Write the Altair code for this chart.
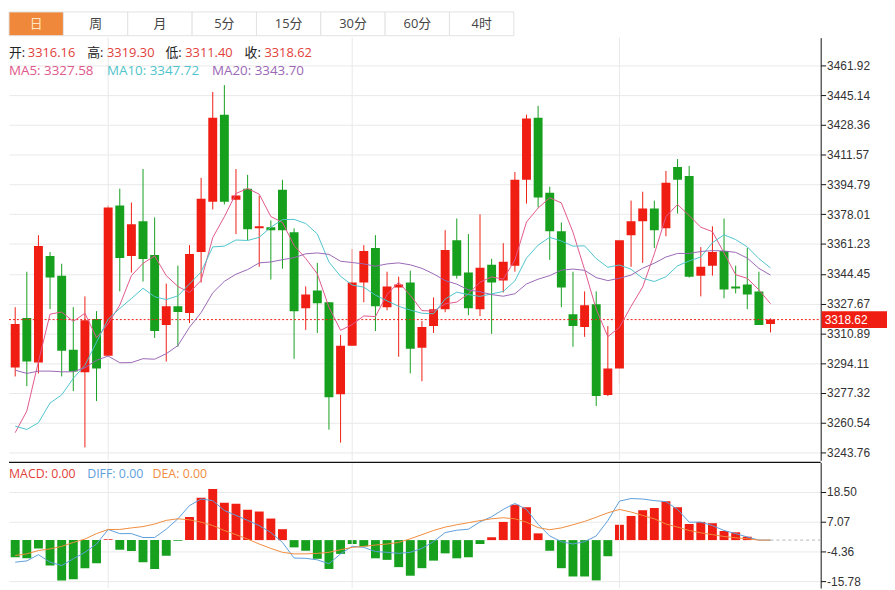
import altair as alt
import pandas as pd

# ---------------- data ----------------
tabs = ["日", "周", "月", "5分", "15分", "30分", "60分", "4时"]

opens = [3291.6, 3319.5, 3294.4, 3354.5, 3343.4, 3301.6, 3288.9, 3318.9, 3298.3, 3382.9,
         3354.5, 3374.0, 3355.1, 3315.6, 3326.1, 3322.3, 3356.7, 3385.1, 3434.1, 3386.2,
         3392.4, 3370.1, 3370.7, 3391.8, 3367.9, 3325.0, 3335.0, 3328.4, 3276.6, 3303.9,
         3339.5, 3359.0, 3325.6, 3336.7, 3339.5, 3302.8, 3315.0, 3324.5, 3363.4, 3345.1,
         3324.5, 3349.5, 3340.6, 3349.0, 3397.4, 3432.4, 3390.1, 3368.4, 3321.7, 3314.5,
         3327.3, 3276.1, 3291.1, 3366.2, 3374.0, 3381.2, 3370.1, 3404.6, 3399.6, 3343.4,
         3349.0, 3357.3, 3337.3, 3338.4, 3334.5, 3316.16]
highs = [3325.6, 3345.6, 3366.2, 3356.7, 3350.1, 3325.6, 3331.7, 3323.4, 3382.9, 3392.4,
         3384.6, 3403.5, 3376.2, 3338.9, 3349.0, 3360.6, 3398.5, 3446.9, 3450.8, 3403.5,
         3400.2, 3388.5, 3374.5, 3397.4, 3370.1, 3337.3, 3350.6, 3328.4, 3310.0, 3358.4,
         3360.6, 3366.2, 3345.6, 3342.8, 3346.2, 3317.8, 3331.1, 3369.0, 3375.6, 3366.8,
         3377.9, 3352.9, 3361.7, 3401.8, 3434.1, 3439.1, 3393.5, 3373.4, 3345.6, 3334.5,
         3334.5, 3315.0, 3364.0, 3385.7, 3390.7, 3385.7, 3402.4, 3409.1, 3405.2, 3359.5,
         3371.2, 3375.6, 3349.0, 3359.0, 3345.6, 3319.30]
lows = [3286.6, 3281.1, 3288.3, 3324.5, 3286.6, 3278.3, 3246.6, 3272.7, 3297.7, 3334.5,
        3345.1, 3340.1, 3308.3, 3295.0, 3303.3, 3316.7, 3339.5, 3380.7, 3383.5, 3366.8,
        3363.4, 3348.4, 3341.2, 3347.3, 3296.6, 3312.8, 3311.1, 3256.6, 3249.3, 3303.9,
        3328.4, 3312.2, 3323.9, 3297.7, 3288.3, 3283.9, 3311.1, 3322.8, 3341.7, 3321.1,
        3320.6, 3310.6, 3333.9, 3345.6, 3384.0, 3381.8, 3352.3, 3325.6, 3303.3, 3308.9,
        3269.9, 3275.5, 3282.7, 3348.4, 3350.6, 3359.0, 3365.6, 3378.4, 3342.3, 3331.7,
        3343.4, 3330.6, 3333.4, 3324.5, 3315.6, 3311.40]
closes = [3316.1, 3295.0, 3360.1, 3342.3, 3301.1, 3289.4, 3318.3, 3291.1, 3381.8, 3353.4,
          3372.3, 3352.8, 3312.2, 3326.1, 3322.9, 3355.6, 3386.8, 3432.4, 3385.1, 3388.5,
          3369.5, 3371.2, 3369.0, 3369.0, 3323.4, 3332.8, 3327.8, 3274.9, 3303.9, 3339.5,
          3357.3, 3326.1, 3337.3, 3338.4, 3302.2, 3314.5, 3324.5, 3357.9, 3343.4, 3325.0,
          3347.9, 3339.5, 3351.2, 3397.4, 3431.9, 3387.4, 3368.4, 3336.7, 3315.0, 3326.7,
          3275.5, 3291.1, 3363.4, 3374.0, 3381.2, 3369.0, 3395.7, 3397.4, 3342.8, 3348.4,
          3356.7, 3335.6, 3336.1, 3332.8, 3315.6, 3318.62]

ma5 = [3254.9, 3267.1, 3294.9, 3321.7, 3322.9, 3317.6, 3322.2, 3308.4, 3316.3, 3326.8,
       3343.4, 3350.3, 3354.5, 3343.4, 3337.3, 3333.9, 3340.7, 3364.8, 3376.6, 3389.7,
       3392.5, 3389.3, 3376.7, 3373.4, 3360.4, 3353.1, 3344.4, 3325.6, 3312.6, 3315.8,
       3320.7, 3320.3, 3332.8, 3339.7, 3332.3, 3323.7, 3323.4, 3327.5, 3328.5, 3333.1,
       3339.7, 3342.7, 3341.4, 3352.2, 3373.6, 3381.5, 3387.3, 3384.4, 3367.9, 3346.8,
       3324.5, 3309.0, 3314.3, 3326.1, 3337.0, 3355.7, 3376.7, 3383.5, 3377.2, 3370.7,
       3368.2, 3356.2, 3343.9, 3341.9, 3335.4, 3327.58]
ma10 = [3258.6, 3256.7, 3260.5, 3271.6, 3276.2, 3285.5, 3292.9, 3305.9, 3318.9, 3324.9,
        3330.5, 3336.3, 3331.5, 3329.9, 3332.0, 3338.7, 3345.5, 3359.6, 3360.0, 3363.5,
        3363.2, 3365.0, 3370.7, 3375.0, 3375.1, 3372.8, 3366.9, 3351.1, 3343.0, 3338.1,
        3336.9, 3332.4, 3329.2, 3326.1, 3324.0, 3322.2, 3321.9, 3330.2, 3334.1, 3332.7,
        3331.7, 3333.1, 3334.5, 3340.4, 3353.3, 3360.6, 3365.0, 3362.9, 3360.0, 3360.2,
        3353.0, 3348.1, 3349.4, 3347.0, 3341.9, 3340.1, 3342.8, 3348.9, 3351.7, 3353.9,
        3362.0, 3366.4, 3363.7, 3359.6, 3353.0, 3347.72]
ma20 = [3290.1, 3288.3, 3289.6, 3289.6, 3289.2, 3289.2, 3291.5, 3295.7, 3298.1, 3294.3,
        3294.4, 3296.6, 3296.3, 3299.4, 3304.0, 3314.3, 3322.6, 3333.7, 3340.2, 3344.2,
        3346.8, 3350.6, 3351.1, 3352.4, 3353.5, 3355.7, 3356.2, 3355.4, 3351.5, 3350.8,
        3350.0, 3348.7, 3350.0, 3350.6, 3349.5, 3347.5, 3344.4, 3340.6, 3338.6, 3335.4,
        3334.3, 3332.7, 3331.8, 3333.2, 3338.7, 3341.4, 3343.4, 3346.5, 3347.1, 3346.4,
        3342.3, 3340.6, 3341.9, 3343.7, 3347.6, 3350.4, 3353.9, 3355.9, 3355.9, 3357.0,
        3357.5, 3357.3, 3356.5, 3353.3, 3347.5, 3343.70]

macd = [-6.6, -7.0, -3.2, -9.8, -15.5, -15.1, -10.8, -8.9, 0.3, -3.7,
        -4.2, -8.5, -11.1, -6.0, -0.2, 8.9, 16.3, 19.7, 14.4, 14.0,
        11.7, 11.0, 8.3, 4.2, -2.8, -4.1, -7.2, -11.1, -5.3, -1.5,
        -2.4, -7.0, -7.6, -10.4, -13.7, -10.8, -7.9, -5.1, -7.0, -6.6,
        -1.5, 1.1, 7.0, 13.6, 12.6, 2.6, -4.1, -10.8, -14.0, -14.0,
        -15.5, -6.2, 5.9, 9.3, 11.5, 12.4, 15.0, 12.6, 6.2, 7.0,
        6.5, 3.5, 3.0, 1.3, 0.0, 0.0]
diff = [-8.5, -8.0, -5.6, -8.5, -9.8, -7.2, -4.7, -1.5, 4.1, 2.5,
        2.5, 1.0, 1.0, 4.2, 8.2, 13.3, 15.8, 15.2, 11.4, 9.5,
        7.6, 5.6, 2.9, -0.9, -6.9, -7.0, -7.6, -9.1, -5.3, -2.4,
        -2.8, -4.4, -4.7, -5.1, -4.7, -3.2, -0.6, 2.9, 3.8, 4.2,
        7.0, 9.0, 11.8, 14.1, 11.8, 6.1, 1.6, -0.6, -1.5, -0.6,
        1.6, 7.5, 15.0, 16.0, 15.8, 15.2, 14.8, 11.8, 6.9, 6.9,
        5.6, 3.7, 2.5, 1.2, 0.0, 0.0]
dea = [-5.9, -5.3, -4.0, -3.4, -2.4, -0.9, 0.4, 2.5, 4.1, 4.1,
       4.7, 5.2, 6.2, 7.6, 8.2, 7.8, 6.9, 5.6, 3.7, 2.1,
       0.4, -1.5, -3.2, -4.7, -5.3, -5.3, -5.1, -4.7, -3.7, -2.8,
       -2.4, -1.9, -1.5, -0.9, 0.5, 2.1, 3.7, 5.0, 5.9, 6.7,
       7.5, 8.2, 8.6, 8.2, 6.9, 4.8, 4.0, 4.7, 5.9, 7.2,
       8.8, 10.5, 11.8, 10.8, 9.5, 8.2, 6.2, 5.0, 3.7, 2.8,
       2.1, 1.4, 0.9, 0.5, 0.0, 0.0]

price_ticks = [3461.92, 3445.14, 3428.36, 3411.57, 3394.79, 3378.01, 3361.23,
               3344.45, 3327.67, 3310.89, 3294.11, 3277.32, 3260.54, 3243.76]
macd_ticks = [18.50, 7.07, -4.36, -15.78]
vgrid_idx = [8, 29, 52]
hdr_names = ["开:", "高:", "低:", "收:"]

# ---------------- style ----------------
RED = "#ef1d12"
GREEN = "#16a01e"
VALRED = "#e2413a"
C_MA5 = "#e0588c"
C_MA10 = "#4fc4cc"
C_MA20 = "#9a68b5"
C_DIFF = "#5d9fdb"
C_DEA = "#f08c3e"
GRID = "#e9e9e9"
FONT = "Open Sans, Noto Sans CJK SC"
AXFONT = "Liberation Sans"

W = 820
H_TAB = 24
H_MAIN = 427
H_MACD = 127
XDOM = [-0.108, 68.89]
YDOM = [3239.3, 3477.5]
MDOM = [-18.45, 29.93]

n = len(closes)
df = pd.DataFrame({"i": list(range(n)), "open": opens, "high": highs, "low": lows,
                   "close": closes, "ma5": ma5, "ma10": ma10, "ma20": ma20,
                   "macd": macd, "diff": diff, "dea": dea})
one = pd.DataFrame({"z": [0]})
vg = pd.DataFrame({"i": vgrid_idx})

xs = alt.Scale(domain=XDOM, nice=False, zero=False)
ys = alt.Scale(domain=YDOM, nice=False, zero=False)
ms = alt.Scale(domain=MDOM, nice=False, zero=False)

price_axis = alt.Axis(orient="right", values=price_ticks, format=".2f", grid=True,
                      gridColor=GRID, gridWidth=1, domainColor="#111", tickColor="#111",
                      tickSize=5, labelPadding=1, labelColor="#333", labelFont=AXFONT,
                      labelFontSize=12, labelOverlap=False, title=None)
macd_axis = alt.Axis(orient="right", values=macd_ticks, grid=True,
                     labelExpr="replace(format(datum.value, '.2f'), '\u2212', '-')",
                     gridColor=GRID, gridWidth=1, domainColor="#111", tickColor="#111",
                     tickSize=5, labelPadding=1, labelColor="#333", labelFont=AXFONT,
                     labelFontSize=12, labelOverlap=False, title=None)

X = alt.X("i:Q", scale=xs, axis=None)
updown = alt.condition("datum.close >= datum.open", alt.value(RED), alt.value(GREEN))
base = alt.Chart(df)


def YP(field):
    return alt.Y(field, type="quantitative", scale=ys, axis=price_axis)


def YM(field):
    return alt.Y(field, type="quantitative", scale=ms, axis=macd_axis)


# ---------------- tab bar ----------------
tab_df = pd.DataFrame({"tab": tabs, "k": list(range(len(tabs)))})
tx = alt.Scale(domain=[0, W], nice=False, zero=False)
tab_base = alt.Chart(tab_df).transform_calculate(
    left="max(0, datum.k * 65 - 10)",
    right="datum.k * 65 + 55",
).transform_calculate(center="(datum.left + datum.right) / 2")
tab_rect = tab_base.mark_rect(stroke="#e2e2e2", strokeWidth=1).encode(
    x=alt.X("left:Q", scale=tx, axis=None), x2="right:Q",
    y=alt.value(0), y2=alt.value(H_TAB),
    fill=alt.condition("datum.k == 0", alt.value("#f0883b"), alt.value("white")))
tab_text = tab_base.mark_text(font=FONT, fontSize=13, baseline="middle").encode(
    x=alt.X("center:Q", scale=tx, axis=None), y=alt.value(H_TAB / 2), text="tab:N",
    color=alt.condition("datum.k == 0", alt.value("#fde6c4"), alt.value("#444")))
tab_chart = alt.layer(tab_rect, tab_text).properties(width=W, height=H_TAB)

# ---------------- main price panel ----------------
wick = base.mark_rule(strokeWidth=1, clip=True).encode(
    x=X, y=YP("low"), y2="high:Q", color=updown)
vgrid_main = alt.Chart(vg).mark_rule(color=GRID, strokeWidth=1).encode(
    x=alt.X("i:Q", scale=xs, axis=None))
body = base.mark_bar(size=9, clip=True).encode(
    x=X, y=YP("open"), y2="close:Q", color=updown)
l5 = base.mark_line(strokeWidth=1, clip=True, color=C_MA5).encode(x=X, y=YP("ma5"))
l10 = base.mark_line(strokeWidth=1, clip=True, color=C_MA10).encode(x=X, y=YP("ma10"))
l20 = base.mark_line(strokeWidth=1, clip=True, color=C_MA20).encode(x=X, y=YP("ma20"))
last = closes[-1]
pline = alt.Chart(one).mark_rule(color=RED, strokeDash=[2, 2], strokeWidth=1).encode(
    x=alt.value(0), x2=alt.value(W), y=alt.YDatum(last, scale=ys, axis=price_axis))
ptag = alt.Chart(one).mark_rect(color=RED, yOffset=-8.5, y2Offset=8.5).encode(
    x=alt.value(W + 1), x2=alt.value(W + 67),
    y=alt.YDatum(last, scale=ys, axis=price_axis), y2=alt.Y2Datum(last))
ptext = alt.Chart(one).mark_text(color="white", align="left", baseline="middle",
                                 font=AXFONT, fontSize=12).encode(
    x=alt.value(W + 4), y=alt.YDatum(last, scale=ys, axis=price_axis),
    text=alt.value(f"{last:.2f}"))

hdr_vals = [opens[-1], highs[-1], lows[-1], closes[-1]]
hdr_layers = []
for k, (nm, v) in enumerate(zip(hdr_names, hdr_vals)):
    hdr_layers.append(alt.Chart(one).mark_text(align="left", baseline="middle", font=FONT,
                                               fontSize=13, color="#222").encode(
        x=alt.value(max(0, round(79.7 * k - 1))), y=alt.value(16), text=alt.value(nm)))
    hdr_layers.append(alt.Chart(one).mark_text(align="left", baseline="middle", font=FONT,
                                               fontSize=13, color=VALRED).encode(
        x=alt.value(round(79.7 * k + 19)), y=alt.value(16), text=alt.value(f"{v:.2f}")))
ma_info = [("MA5", ma5[-1], C_MA5, 0), ("MA10", ma10[-1], C_MA10, 99), ("MA20", ma20[-1], C_MA20, 205)]
for nm, v, col, px in ma_info:
    hdr_layers.append(alt.Chart(one).mark_text(align="left", baseline="middle", font=FONT,
                                               fontSize=13.5, color=col).encode(
        x=alt.value(px), y=alt.value(34), text=alt.value(f"{nm}: {v:.2f}")))

main_chart = alt.layer(wick, vgrid_main, body, pline, l5, l10, l20, ptag, ptext,
                       *hdr_layers).properties(width=W, height=H_MAIN)

# ---------------- MACD panel ----------------
mbars = base.mark_bar(size=9, clip=True).encode(
    x=X, y=YM("macd"), y2=alt.Y2Datum(0),
    color=alt.condition("datum.macd >= 0", alt.value(RED), alt.value(GREEN)))
vgrid_macd = alt.Chart(vg).mark_rule(color=GRID, strokeWidth=1).encode(
    x=alt.X("i:Q", scale=xs, axis=None))
zline = alt.Chart(one).mark_rule(color="#b5b5b5", strokeDash=[3, 3], strokeWidth=1).encode(
    x=alt.XDatum(n - 1, scale=xs, axis=None), x2=alt.value(W),
    y=alt.YDatum(0, scale=ms, axis=macd_axis))
ldiff = base.mark_line(strokeWidth=1, clip=True, color=C_DIFF).encode(x=X, y=YM("diff"))
ldea = base.mark_line(strokeWidth=1, clip=True, color=C_DEA).encode(x=X, y=YM("dea"))
topline = alt.Chart(one).mark_rule(color="#111", strokeWidth=1.2).encode(
    x=alt.value(0), x2=alt.value(W), y=alt.value(0))
m_info = [("MACD", macd[-1], VALRED, 0), ("DIFF", diff[-1], C_DIFF, 79), ("DEA", dea[-1], C_DEA, 145)]
m_layers = []
for nm, v, col, px in m_info:
    m_layers.append(alt.Chart(one).mark_text(align="left", baseline="middle", font=FONT,
                                             fontSize=12.5, color=col).encode(
        x=alt.value(px), y=alt.value(12), text=alt.value(f"{nm}: {v:.2f}")))

macd_chart = alt.layer(mbars, vgrid_macd, zline, ldiff, ldea, topline,
                       *m_layers).properties(width=W, height=H_MACD)

chart = alt.vconcat(tab_chart, main_chart, macd_chart, spacing=0).properties(
    padding=0).configure_view(stroke=None)

chart.save("out.html", embed_options={"renderer": "svg", "actions": False})
